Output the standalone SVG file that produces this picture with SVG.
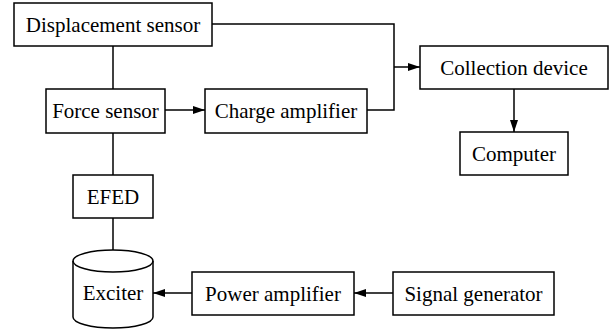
<svg xmlns="http://www.w3.org/2000/svg" width="612" height="330" viewBox="0 0 612 330">
<style>
.b{fill:#fff;stroke:#000;stroke-width:1.5}
.t{font-size:21px;fill:#000;text-anchor:middle}
.c{fill:none;stroke:#000;stroke-width:1.5}
</style>
<defs>
<marker id="a" markerWidth="12" markerHeight="8" refX="12" refY="4" orient="auto" markerUnits="userSpaceOnUse">
<path d="M0,0 L12,4 L0,8 Z" fill="#000"/>
</marker>
</defs>
<rect width="612" height="330" fill="#fff"/>
<g id="connectors">
<path class="c" d="M212,24 H394 V110 H367"/>
<path class="c" d="M394,67 H420" marker-end="url(#a)"/>
<path class="c" d="M165,110 H205" marker-end="url(#a)"/>
<path class="c" d="M113,46 V89"/>
<path class="c" d="M113,133 V175"/>
<path class="c" d="M113,218 V250"/>
<path class="c" d="M514,89 V132" marker-end="url(#a)"/>
<path class="c" d="M192,293 H153" marker-end="url(#a)"/>
<path class="c" d="M393,293 H354" marker-end="url(#a)"/>
</g>
<g font-family="'Liberation Serif', 'Times New Roman', 'DejaVu Serif', serif">
<g id="displacement-sensor"><rect class="b" x="14" y="3" width="198" height="43"/><text class="t" x="113" y="31.5">Displacement sensor</text></g>
<g id="force-sensor"><rect class="b" x="46" y="89" width="119" height="44"/><text class="t" x="105.5" y="118">Force sensor</text></g>
<g id="charge-amplifier"><rect class="b" x="205" y="89" width="162" height="44"/><text class="t" x="286" y="118">Charge amplifier</text></g>
<g id="collection-device"><rect class="b" x="420" y="46" width="188" height="43"/><text class="t" x="514" y="74.5">Collection device</text></g>
<g id="computer"><rect class="b" x="460" y="132" width="108" height="43"/><text class="t" x="514" y="160.5">Computer</text></g>
<g id="efed"><rect class="b" x="73" y="175" width="80" height="43"/><text class="t" x="113" y="203.5">EFED</text></g>
<g id="exciter">
<path class="b" d="M73,261 A40,11 0 0 1 153,261 V317 A40,11 0 0 1 73,317 Z"/>
<path class="c" d="M73,261 A40,11 0 0 0 153,261"/>
<text class="t" x="113" y="300">Exciter</text>
</g>
<g id="power-amplifier"><rect class="b" x="192" y="272" width="162" height="43"/><text class="t" x="273" y="300.5">Power amplifier</text></g>
<g id="signal-generator"><rect class="b" x="393" y="272" width="161" height="43"/><text class="t" x="473.5" y="300.5">Signal generator</text></g>
</g>
</svg>
